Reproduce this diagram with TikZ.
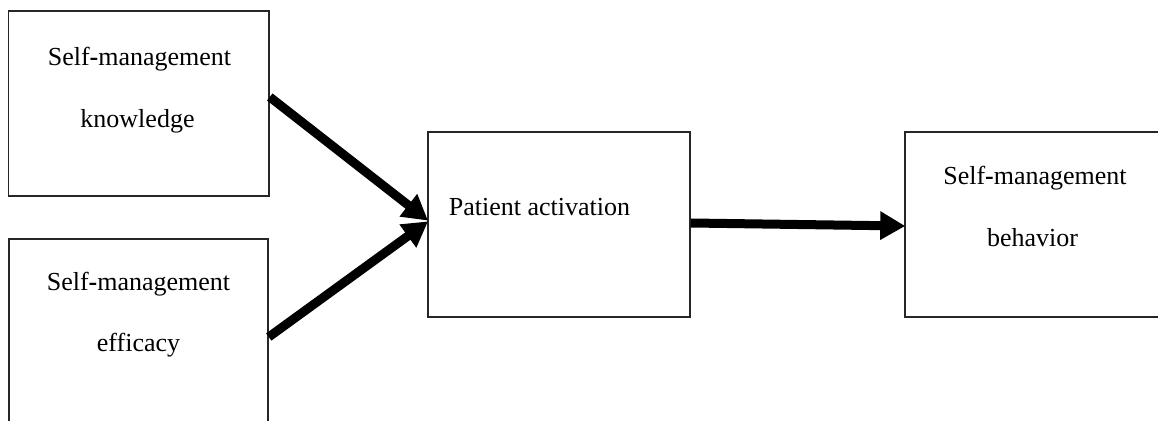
\documentclass[tikz,border=0pt]{standalone}
\usepackage{fontspec}
\setmainfont{Liberation Serif}
\usetikzlibrary{arrows.meta}
\tikzset{
  box/.style={draw=black!85, line width=0.75pt, fill=none, inner sep=0pt},
  lbl/.style={anchor=base, inner sep=0pt, font=\fontsize{13pt}{15pt}\selectfont},
  bigarrow/.style={line width=4.5pt, -{Triangle[length=12.5pt,width=13.5pt]}, shorten >=-0.5pt}
}
\newcommand{\hyp}{\textbf{-}}
\begin{document}
\begin{tikzpicture}[x=0.5pt,y=-0.5pt]
\useasboundingbox (0,0) rectangle (1158,421);
\fill[white] (0,0) rectangle (1158,421);
\node[box, minimum width=130.25pt, minimum height=92.5pt] (b1) at (138.75,103.5) {};
\node[box, minimum width=129.5pt, minimum height=105pt] (b2) at (138.5,344) {};
\node[box, minimum width=131pt, minimum height=92.5pt] (b3) at (559,224.5) {};
\node[box, minimum width=135pt, minimum height=92.5pt] (b4) at (1040,224.5) {};
\node[lbl] (t1a) at (139.5,66) {Self\hyp management};
\node[lbl] (t1b) at (137.5,128) {knowledge};
\node[lbl] (t2a) at (138.5,291) {Self\hyp management};
\node[lbl] (t2b) at (138.5,352) {efficacy};
\node[lbl] (t3) at (539.5,216) {Patient activation};
\node[lbl] (t4a) at (1035,185) {Self\hyp management};
\node[lbl] (t4b) at (1032.5,247) {behavior};
\draw[bigarrow] ([yshift=3.25pt]b1.east) -- ([yshift=2.25pt]b3.west);
\draw[bigarrow] ([yshift=3.5pt]b2.east) -- ([yshift=1.25pt]b3.west);
\draw[bigarrow] ([yshift=0.75pt]b3.east) -- ([yshift=-0.75pt]b4.west);
\end{tikzpicture}
\end{document}
